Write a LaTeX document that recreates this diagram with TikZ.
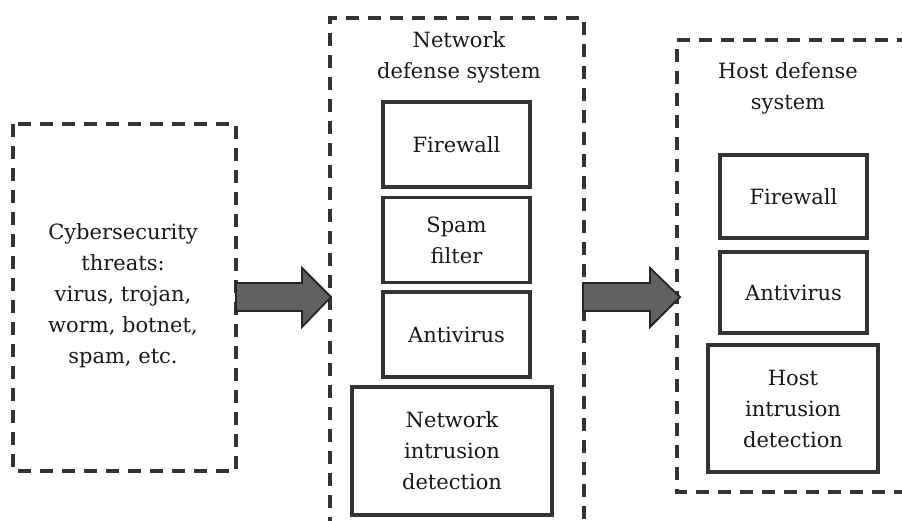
\documentclass[tikz,border=0pt]{standalone}
\usepackage{fontspec}
\setmainfont{DejaVu Serif}
\begin{document}
\begin{tikzpicture}[x=1pt,y=-1pt,
  dbox/.style={draw=black!80, line width=3.2pt, dash pattern=on 13pt off 9pt},
  sbox/.style={draw=black!80, line width=3.2pt, fill=white},
  lbl/.style={align=center, font=\fontsize{21}{31}\selectfont, text=black!90},
  bigarrow/.style={draw=black!85, line width=1.8pt, fill=black!62, line join=miter}]
\useasboundingbox (0,0) rectangle (902,521);
\fill[white] (0,0) rectangle (902,521);
% dashed containers
\draw[dbox] (13,124) rectangle (236,471);
\draw[dbox] (330,530) -- (330,18) -- (584,18) -- (584,530);
\draw[dbox] (910,40) -- (677,40) -- (677,492) -- (910,492);
% left text
\node[lbl] (threats) at (123,296) {Cybersecurity\\threats:\\virus, trojan,\\worm, botnet,\\spam, etc.};
% middle
\node[lbl] (nettitle) at (459,57) {Network\\defense system};
\node[sbox, minimum width=147pt, minimum height=85pt] (fw1) at (456.5,144.5) {};
\node[lbl] at (fw1) {Firewall};
\node[sbox, minimum width=147pt, minimum height=85pt] (spam) at (456.5,240) {};
\node[lbl] at (spam) {Spam\\filter};
\node[sbox, minimum width=147pt, minimum height=85pt] (av1) at (456.5,334.5) {};
\node[lbl] at (av1) {Antivirus};
\node[sbox, minimum width=200pt, minimum height=128pt] (nid) at (452,451) {};
\node[lbl] at (nid) {Network\\intrusion\\detection};
% right
\node[lbl] (hosttitle) at (788,88) {Host defense\\system};
\node[sbox, minimum width=147pt, minimum height=83pt] (fw2) at (793.5,196.5) {};
\node[lbl] at (fw2) {Firewall};
\node[sbox, minimum width=147pt, minimum height=81pt] (av2) at (793.5,292.5) {};
\node[lbl] at (av2) {Antivirus};
\node[sbox, minimum width=170pt, minimum height=127pt] (hid) at (793,408.5) {};
\node[lbl] at (hid) {Host\\intrusion\\detection};
% arrows
\coordinate (a1s) at (236,297);
\coordinate (a2s) at (583,297);
\draw[bigarrow] (a1s) ++(0,-14) -- ++(66,0) -- ++(0,-15) -- (331,297) -- (302,327) -- ++(0,-16) -- ++(-66,0) -- cycle;
\draw[bigarrow] (a2s) ++(0,-14) -- ++(67,0) -- ++(0,-15) -- (680,297) -- (650,327) -- ++(0,-16) -- ++(-67,0) -- cycle;
\end{tikzpicture}
\end{document}
